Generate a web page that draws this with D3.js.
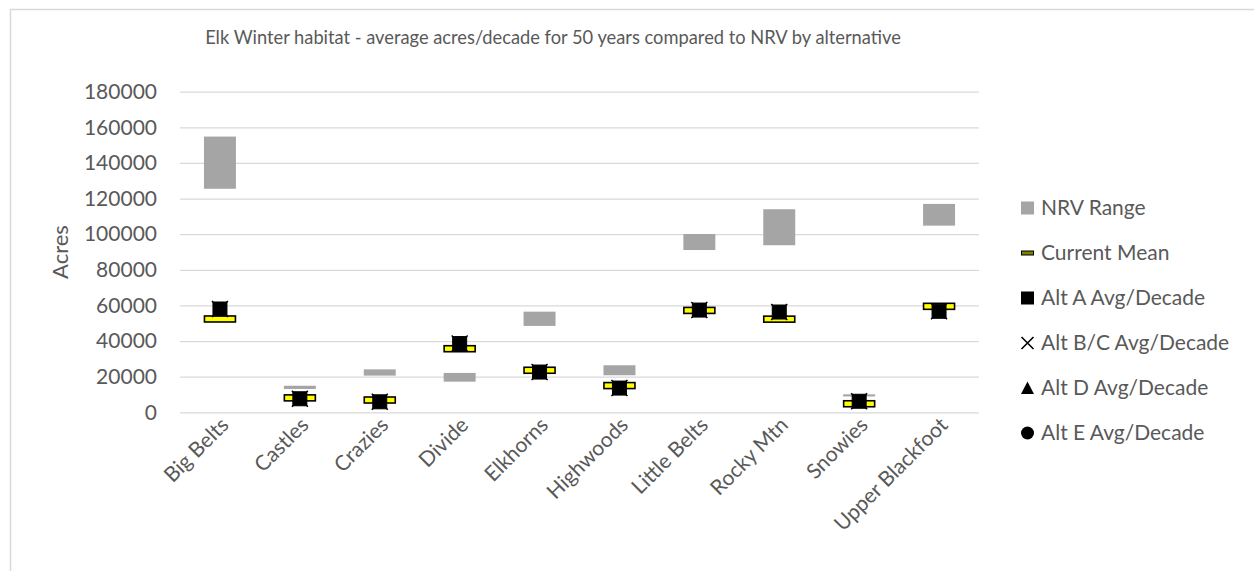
<!DOCTYPE html>
<html>
<head>
<meta charset="utf-8">
<script src="https://cdn.jsdelivr.net/npm/d3@7"></script>
<style>
  html, body { margin: 0; padding: 0; background: #fff; }
  svg { display: block; }
  text { font-family: Lato, "Noto Sans", sans-serif; fill: #595959; }
</style>
</head>
<body>
<svg id="chart" width="1254" height="571"></svg>
<script>
// Elk winter habitat by landscape (acres)
const categories = ["Big Belts", "Castles", "Crazies", "Divide", "Elkhorns",
                    "Highwoods", "Little Belts", "Rocky Mtn", "Snowies", "Upper Blackfoot"];
const nrvLow  = [125500, 13100, 20600, 17200, 48500, 20800,  91100,  93800,  8900, 104800];
const nrvHigh = [154800, 14900, 24100, 22100, 56500, 26400, 100100, 114000, 10100, 117000];
const currentMean = [52400, 8100, 6900, 35700, 23600, 15000, 57200, 52300, 4800, 59500];
const altA  = [58000, 7600, 5900, 38600, 22600, 13600, 57400, 56300, 6200, 56700];
const altBC = [58000, 7600, 5900, 38600, 22600, 13600, 57400, 56300, 6200, 56700];
const altD  = [58000, 7600, 5900, 38600, 22600, 13600, 57400, 56300, 6200, 56700];
const altE  = [58000, 7600, 5900, 38600, 22600, 13600, 57400, 56300, 6200, 56700];
const yTicks = [0, 20000, 40000, 60000, 80000, 100000, 120000, 140000, 160000, 180000];
const legendLabels = ["NRV Range", "Current Mean", "Alt A Avg/Decade",
                      "Alt B/C Avg/Decade", "Alt D Avg/Decade", "Alt E Avg/Decade"];
const titleText = "Elk Winter habitat - average acres/decade for 50 years compared to NRV by alternative";

const svg = d3.select("#chart");
const plot = { left: 180, right: 979, top: 91.7, bottom: 412.3 };

// chart frame
svg.append("rect")
  .attr("x", 10.5).attr("y", 9.5)
  .attr("width", 1300).attr("height", 600)
  .attr("fill", "#fff").attr("stroke", "#d9d9d9").attr("stroke-width", 1.5);

const x = d3.scaleBand().domain(categories).range([plot.left, plot.right]);
const y = d3.scaleLinear().domain([0, 180000]).range([plot.bottom, plot.top]);
const bw = x.bandwidth() * 0.4;
const cx = c => x(c) + x.bandwidth() / 2;

// gridlines + y labels
const yAxis = d3.axisLeft(y).tickValues(yTicks).tickSize(-(plot.right - plot.left))
  .tickPadding(23).tickFormat(d3.format("d"));
const gy = svg.append("g").attr("transform", `translate(${plot.left},0)`).call(yAxis);
gy.select(".domain").remove();
gy.selectAll(".tick line").attr("stroke", "#d9d9d9").attr("stroke-width", 1.3);
gy.selectAll(".tick text").attr("font-size", 21).attr("fill", "#595959")
  .style("font-family", "Lato, sans-serif");

// category labels
const xAxis = d3.axisBottom(x).tickSize(0).tickPadding(0);
const gx = svg.append("g").attr("transform", `translate(0,${plot.bottom})`).call(xAxis);
gx.select(".domain").remove();
gx.selectAll(".tick text")
  .attr("font-size", 21).attr("fill", "#595959")
  .style("font-family", "Lato, sans-serif")
  .attr("text-anchor", "end")
  .attr("dy", 0)
  .attr("transform", "translate(10,14) rotate(-45)");

// axis title
svg.append("text")
  .attr("transform", "translate(68,252) rotate(-90)")
  .attr("text-anchor", "middle").attr("font-size", 22)
  .text("Acres");

// chart title
svg.append("text")
  .attr("x", 553).attr("y", 44)
  .attr("text-anchor", "middle").attr("font-size", 18.3)
  .text(titleText);

// NRV range bars
svg.append("g").selectAll("rect").data(categories).join("rect")
  .attr("x", c => cx(c) - bw / 2)
  .attr("width", bw)
  .attr("y", (c, i) => y(nrvHigh[i]))
  .attr("height", (c, i) => y(nrvLow[i]) - y(nrvHigh[i]))
  .attr("fill", "#a5a5a5");

// current mean markers
svg.append("g").selectAll("rect").data(categories).join("rect")
  .attr("x", c => cx(c) - 15.5)
  .attr("width", 31)
  .attr("y", (c, i) => y(currentMean[i]) - 3)
  .attr("height", 6)
  .attr("fill", "#ffff00").attr("stroke", "#000").attr("stroke-width", 1.6);

// Alt A squares
svg.append("g").selectAll("rect").data(categories).join("rect")
  .attr("x", c => cx(c) - 7)
  .attr("width", 14)
  .attr("y", (c, i) => y(altA[i]) - 7)
  .attr("height", 14)
  .attr("fill", "#000").attr("stroke", "#000").attr("stroke-width", 1);

// Alt B/C crosses
svg.append("g").selectAll("path").data(categories).join("path")
  .attr("transform", (c, i) => `translate(${cx(c)},${y(altBC[i])})`)
  .attr("d", "M-8,-8L8,8M-8,8L8,-8")
  .attr("stroke", "#000").attr("stroke-width", 1.5).attr("fill", "none");

// Alt D triangles
svg.append("g").selectAll("path").data(categories).join("path")
  .attr("transform", (c, i) => `translate(${cx(c)},${y(altD[i])})`)
  .attr("d", "M0,-6.5L6.5,5.5L-6.5,5.5Z")
  .attr("fill", "#000");

// Alt E circles
svg.append("g").selectAll("circle").data(categories).join("circle")
  .attr("cx", c => cx(c))
  .attr("cy", (c, i) => y(altE[i]))
  .attr("r", 6.5)
  .attr("fill", "#000");

// legend
const lg = svg.append("g");
const rowY = [208, 253, 298, 343, 388, 433];
const lx = 1027.5;
legendLabels.forEach((label, i) => {
  const g = lg.append("g").attr("transform", `translate(${lx},${rowY[i]})`);
  if (i === 0) {
    g.append("rect").attr("x", -6.5).attr("y", -6.5).attr("width", 13).attr("height", 13).attr("fill", "#a5a5a5");
  } else if (i === 1) {
    g.append("rect").attr("x", -6).attr("y", -2).attr("width", 12).attr("height", 4)
      .attr("fill", "#7f7f00").attr("stroke", "#000").attr("stroke-width", 1);
  } else if (i === 2) {
    g.append("rect").attr("x", -6.5).attr("y", -6.5).attr("width", 13).attr("height", 13).attr("fill", "#000");
  } else if (i === 3) {
    g.append("path").attr("d", "M-6,-6L6,6M-6,6L6,-6").attr("stroke", "#000").attr("stroke-width", 1.6);
  } else if (i === 4) {
    g.append("path").attr("d", "M0,-6.5L6.5,6L-6.5,6Z").attr("fill", "#000");
  } else {
    g.append("circle").attr("r", 6.5).attr("fill", "#000");
  }
  g.append("text").attr("x", 13.5).attr("y", 0).attr("dy", "0.35em")
    .attr("font-size", 21).text(label);
});
</script>
</body>
</html>
